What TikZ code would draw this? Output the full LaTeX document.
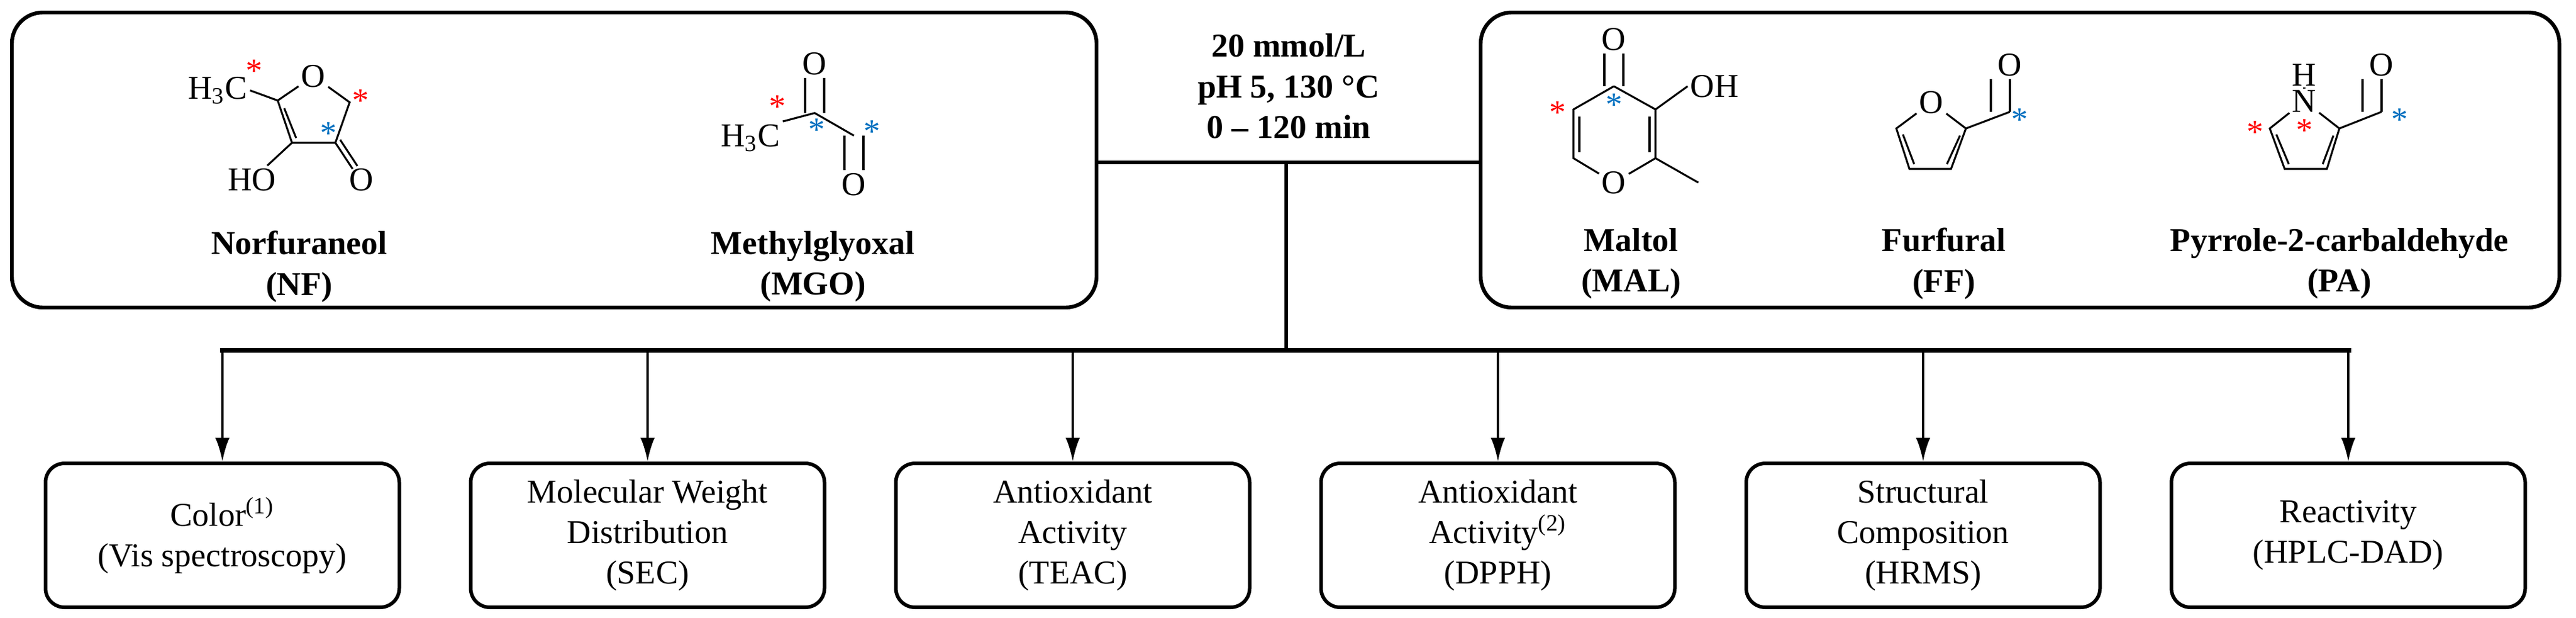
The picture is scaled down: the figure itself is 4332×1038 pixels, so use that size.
\documentclass[tikz,border=0pt]{standalone}
\usepackage{fontspec}
\setmainfont{Liberation Serif}
\usetikzlibrary{arrows.meta}
\definecolor{astred}{RGB}{255,0,0}
\definecolor{astblue}{RGB}{0,112,192}
\tikzset{
  bigbox/.style={draw,line width=1.6pt,rounded corners=13pt},
  resbox/.style={draw,line width=1.5pt,rounded corners=8pt,minimum width=148.75pt,minimum height=60.5pt,align=center,font=\rmfamily\fontsize{14}{17}\selectfont,inner sep=2pt},
  conn/.style={line width=1.5pt},
  arr/.style={line width=1pt,-{Latex[length=10pt,width=6pt]}},
  bond/.style={line width=0.8pt},
  atom/.style={inner sep=1pt,font=\rmfamily\fontsize{14}{17}\selectfont},
  lbl/.style={align=center,font=\rmfamily\bfseries\fontsize{14}{17.2}\selectfont},
  rast/.style={text=astred,inner sep=0pt,anchor=north,font=\rmfamily\fontsize{14}{14}\selectfont},
  bast/.style={text=astblue,inner sep=0pt,anchor=north,font=\rmfamily\fontsize{14}{14}\selectfont},
}
\begin{document}
\begin{tikzpicture}[x=0.25pt,y=-0.25pt]
\useasboundingbox (0,0) rectangle (4332,1038);
% top boxes
\draw[bigbox] (20,21) rectangle (1844,517);
\draw[bigbox] (2490,21) rectangle (4304,517);
\node[lbl] (cond) at (2167,145) {20 mmol/L\\pH 5, 130 °C\\0 – 120 min};
\coordinate (hl) at (1844,273);
\coordinate (hr) at (2490,273);
\coordinate (hm) at (2163,273);
\coordinate (bm) at (2163,589);
\draw[conn] (hl) -- (hr);
\draw[conn] (hm) -- (bm);
% bus
\coordinate (busL) at (374,589);
\coordinate (busR) at (3950,589);
\draw[line width=1.8pt] ([xshift=-1pt]busL) -- ([xshift=1pt]busR);
% result boxes
\foreach \i/\name/\txt in {0/b1/{Color\textsuperscript{(1)}\\(Vis spectroscopy)},
  1/b2/{Molecular Weight\\Distribution\\(SEC)},
  2/b3/{Antioxidant\\Activity\\(TEAC)},
  3/b4/{Antioxidant\\Activity\textsuperscript{(2)}\\(DPPH)},
  4/b5/{Structural\\Composition\\(HRMS)},
  5/b6/{Reactivity\\(HPLC-DAD)}}{
  \node[resbox] (\name) at ({374+715*\i},900) {\txt};
  \coordinate (t\name) at ({374+715*\i},589);
  \draw[arr] (t\name) -- (\name.north);
}
% ---------- Norfuraneol
\node[atom] (nfme) at (366,152) {H\textsubscript{3}C};
\node[atom] (nfo) at (527,128) {O};
\coordinate (nf5) at (588,172);
\coordinate (nf4) at (564,240);
\coordinate (nf3) at (491,240);
\coordinate (nf2) at (467,169);
\node[atom] (nfho) at (424,302) {HO};
\node[atom] (nfoo) at (608,302) {O};
\draw[bond] (nfme.east) -- (nf2) -- (nfo) -- (nf5) -- (nf4) -- (nf3) -- (nf2);
\draw[bond] (478,182) -- (498,232);
\draw[bond] (nf3) -- (nfho);
\draw[bond] (564,240) -- (593,284);
\draw[bond] (572,235) -- (601,279);
\node[rast] at (427,100) {*};
\node[rast] at (606,150) {*};
\node[bast] at (552,205) {*};
\node[lbl] (nfl) at (503,448) {Norfuraneol\\(NF)};
% ---------- Methylglyoxal
\node[atom] (mgot) at (1370,107) {O};
\node[atom] (mgme) at (1262,232) {H\textsubscript{3}C};
\coordinate (mg1) at (1370,190);
\coordinate (mg2) at (1436,228);
\node[atom] (mgob) at (1436,310) {O};
\draw[bond] (mgme.north east) -- (mg1) -- (mg2);
\draw[bond] ([xshift=-4]mg1) -- ([xshift=-4]mgot.south);
\draw[bond] ([xshift=4]mg1) -- ([xshift=4]mgot.south);
\draw[bond] ([xshift=-4]mg2) -- ([xshift=-4]mgob.north);
\draw[bond] ([xshift=4]mg2) -- ([xshift=4]mgob.north);
\node[rast] at (1307,160) {*};
\node[bast] at (1373,199) {*};
\node[bast] at (1466,202) {*};
\node[lbl] (mgl) at (1367,448) {Methylglyoxal\\(MGO)};
% ---------- Maltol
\node[atom] (mato) at (2714,66) {O};
\coordinate (ma4) at (2714,145);
\coordinate (ma3) at (2784,184);
\node[atom,anchor=west] (maoh) at (2838,145) {OH};
\coordinate (ma2) at (2784,266);
\node[atom] (ma1) at (2714,307) {O};
\coordinate (ma6) at (2646,266);
\coordinate (ma5) at (2646,184);
\coordinate (mame) at (2856,307);
\draw[bond] (ma4) -- (ma3) -- (ma2) -- (ma1) -- (ma6) -- (ma5) -- (ma4);
\draw[bond] (ma3) -- (maoh.west);
\draw[bond] (ma2) -- (mame);
\draw[bond] ([xshift=-4]ma4) -- ([xshift=-4]mato.south);
\draw[bond] ([xshift=4]ma4) -- ([xshift=4]mato.south);
\draw[bond] (2656,196) -- (2656,256);
\draw[bond] (2774,196) -- (2774,256);
\node[rast] at (2619,170) {*};
\node[bast] at (2714,157) {*};
\node[lbl] (mal) at (2743,443) {Maltol\\(MAL)};
% ---------- Furfural
\node[atom] (ffo) at (3248,172) {O};
\coordinate (ff2) at (3306,216);
\coordinate (ff3) at (3281,284);
\coordinate (ff4) at (3211,284);
\coordinate (ff5) at (3189,216);
\coordinate (ffc) at (3380,188);
\node[atom] (ffoo) at (3380,109) {O};
\draw[bond] (ffo) -- (ff2) -- (ff3) -- (ff4) -- (ff5) -- (ffo);
\draw[bond] (3296,228) -- (3274,276);
\draw[bond] (3200,226) -- (3219,276);
\draw[bond] (ff2) -- (ffc);
\draw[bond] (ffc) -- (ffoo.south);
\draw[bond] ([xshift=-8]ffc) -- ([xshift=-8]ffoo.south);
\node[bast] at (3396,182) {*};
\node[lbl] (ffl) at (3269,443) {Furfural\\(FF)};
% ---------- Pyrrole-2-carbaldehyde
\node[atom] (pah) at (3875,126) {H};
\node[atom] (pan) at (3875,170) {N};
\coordinate (pa2) at (3934,216);
\coordinate (pa3) at (3913,284);
\coordinate (pa4) at (3842,284);
\coordinate (pa5) at (3817,216);
\coordinate (pac) at (4005,188);
\node[atom] (pao) at (4005,109) {O};
\draw[bond] (pan) -- (pa2) -- (pa3) -- (pa4) -- (pa5) -- (pan);
\draw[bond] (pan) -- (pah);
\draw[bond] (3924,228) -- (3906,276);
\draw[bond] (3828,226) -- (3849,276);
\draw[bond] (pa2) -- (pac);
\draw[bond] (pac) -- (pao.south);
\draw[bond] ([xshift=-8]pac) -- ([xshift=-8]pao.south);
\node[rast] at (3792,203) {*};
\node[rast] at (3875,200) {*};
\node[bast] at (4035,182) {*};
\node[lbl] (pal) at (3934,443) {Pyrrole-2-carbaldehyde\\(PA)};
\end{tikzpicture}
\end{document}
